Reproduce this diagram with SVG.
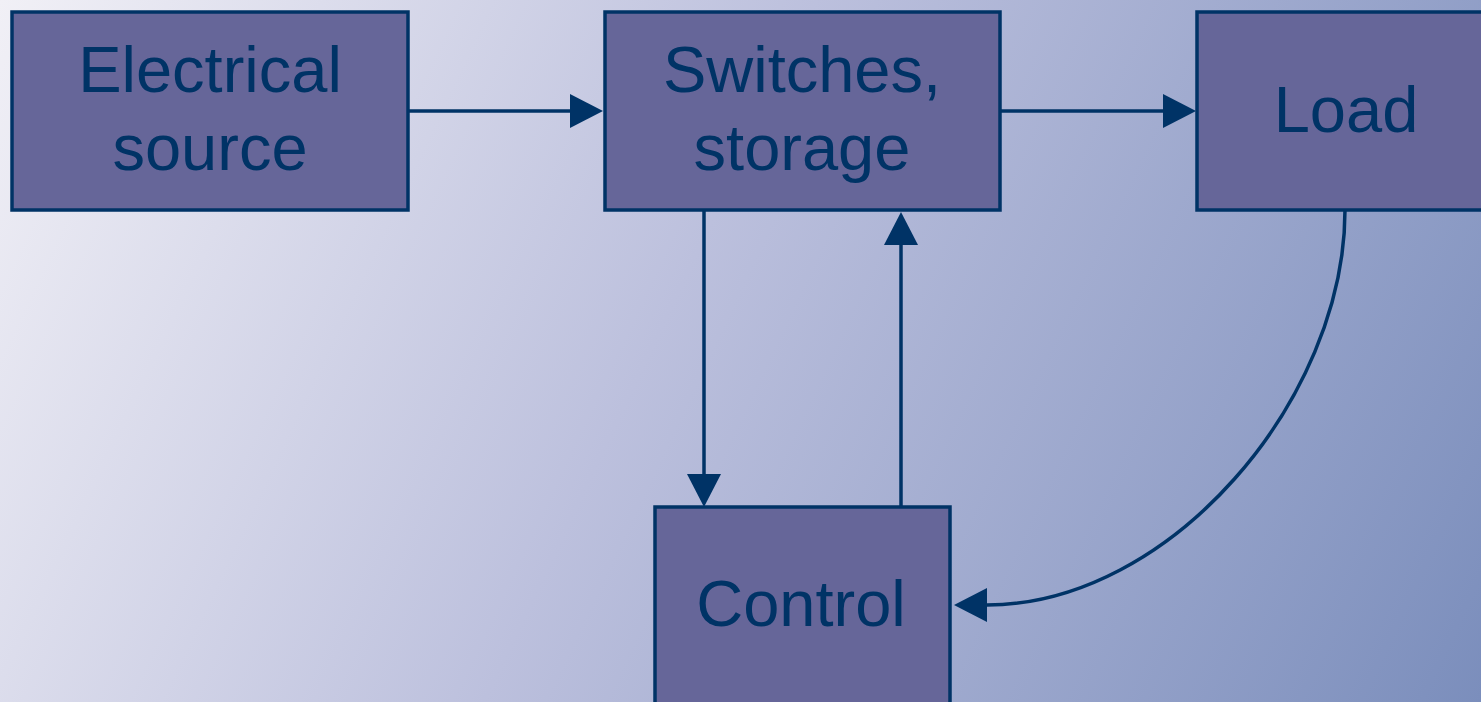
<svg xmlns="http://www.w3.org/2000/svg" width="1481" height="702" viewBox="0 0 1481 702">
  <defs>
    <linearGradient id="bg" x1="0" y1="0" x2="1481" y2="702" gradientUnits="userSpaceOnUse">
      <stop offset="0" stop-color="#f1f0f6"/>
      <stop offset="0.45" stop-color="#bcc0dd"/>
      <stop offset="1" stop-color="#7b8ebc"/>
    </linearGradient>
    <marker id="arrow" markerUnits="userSpaceOnUse" markerWidth="34" markerHeight="36" viewBox="0 -18 34 36" refX="0" refY="0" orient="auto">
      <path d="M0,-17 L33,0 L0,17 z" fill="#003366"/>
    </marker>
    <style>
      .box { fill: #666699; stroke: #003366; stroke-width: 3.5; }
      .label { font-family: "Liberation Sans", Arial, sans-serif; font-size: 65px; fill: #003366; text-anchor: middle; }
      .wire { fill: none; stroke: #003366; stroke-width: 3.5; marker-end: url(#arrow); }
    </style>
  </defs>

  <rect x="0" y="0" width="1481" height="702" fill="url(#bg)"/>

  <g id="connectors">
    <path class="wire" d="M409,111 H570"/>
    <path class="wire" d="M1000,111 H1163"/>
    <path class="wire" d="M704,210 V474"/>
    <path class="wire" d="M901,507 V245"/>
    <path class="wire" d="M1345,210 C1345,400 1170,605 987,605"/>
  </g>

  <g id="electrical-source">
    <rect class="box" x="12" y="12" width="396" height="198"/>
    <text class="label" x="210" y="92">Electrical</text>
    <text class="label" x="210" y="170">source</text>
  </g>

  <g id="switches-storage">
    <rect class="box" x="605" y="12" width="395" height="198"/>
    <text class="label" x="802" y="92">Switches,</text>
    <text class="label" x="802" y="170">storage</text>
  </g>

  <g id="load">
    <rect class="box" x="1197" y="12" width="300" height="198"/>
    <text class="label" x="1346" y="132">Load</text>
  </g>

  <g id="control">
    <rect class="box" x="655" y="507" width="295" height="210"/>
    <text class="label" x="801" y="626">Control</text>
  </g>
</svg>
